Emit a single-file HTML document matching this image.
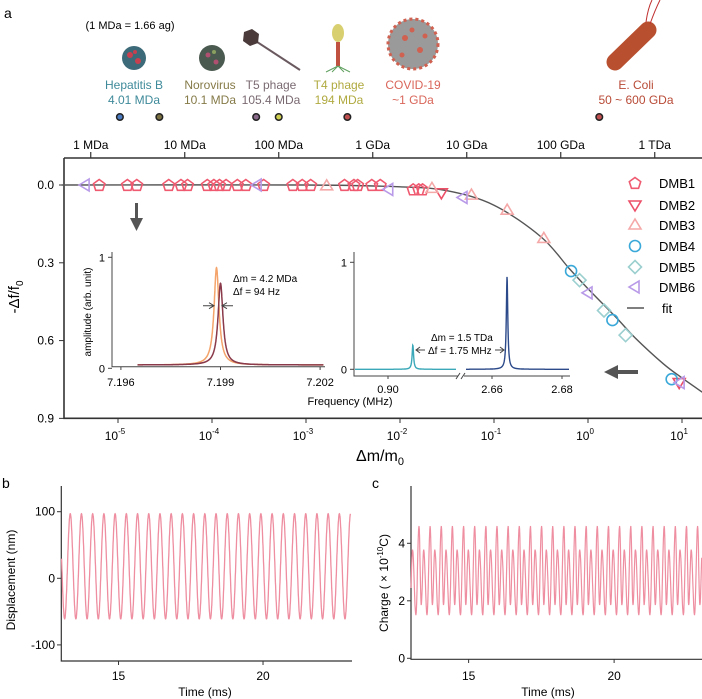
<!DOCTYPE html>
<html><head><meta charset="utf-8"><style>
body{margin:0;background:#fff}
svg{display:block;font-family:"Liberation Sans",sans-serif}
</style></head><body>
<svg id="fig" width="702" height="699" viewBox="0 0 702 699">
<text x="4" y="18" font-size="14">a</text>
<text x="130" y="29" font-size="11" text-anchor="middle">(1 MDa = 1.66 ag)</text>
<g><circle cx="134" cy="58" r="12" fill="#3c6a78"/><circle cx="130" cy="55" r="3" fill="#c84050"/><circle cx="138" cy="61" r="3" fill="#c84050"/><circle cx="135" cy="52" r="2" fill="#c84050"/></g>
<g><circle cx="212" cy="58" r="13" fill="#4a5a50"/><circle cx="208" cy="55" r="2.5" fill="#b05070"/><circle cx="216" cy="62" r="2.5" fill="#b05070"/><circle cx="214" cy="52" r="2" fill="#8aa060"/></g>
<g><line x1="251" y1="38" x2="300" y2="70" stroke="#6a5a60" stroke-width="2"/><polygon points="244,32 252,29 259,34 258,43 250,46 243,41" fill="#4a3a3a"/></g>
<g><ellipse cx="338" cy="33" rx="6" ry="9" fill="#d8d070"/><rect x="336" y="42" width="4" height="24" fill="#c05040"/><path d="M338 66 L326 72 M338 66 L350 72 M338 66 L332 72 M338 66 L344 72" stroke="#60a060" stroke-width="1"/></g>
<g><circle cx="413" cy="44" r="25" fill="#9a9a9a" stroke="#d06050" stroke-width="3" stroke-dasharray="3 3"/><circle cx="405" cy="38" r="3" fill="#d06050"/><circle cx="420" cy="50" r="3" fill="#d06050"/><circle cx="412" cy="30" r="2.5" fill="#d06050"/><circle cx="402" cy="55" r="2.5" fill="#d06050"/><circle cx="425" cy="36" r="2.5" fill="#d06050"/></g>
<g><line x1="615" y1="62" x2="648" y2="30" stroke="#b85030" stroke-width="17" stroke-linecap="round"/><path d="M650 24 Q655 10 660 0 M646 22 Q648 8 652 0" stroke="#c03030" fill="none" stroke-width="1"/></g>
<g font-size="12" text-anchor="middle">
<text x="134" y="89" fill="#3e8a9a">Hepatitis B</text>
<text x="134" y="104" fill="#3e8a9a">4.01 MDa</text>
<text x="210" y="89" fill="#857a48">Norovirus</text>
<text x="210" y="104" fill="#857a48">10.1 MDa</text>
<text x="271" y="89" fill="#7a6a72">T5 phage</text>
<text x="271" y="104" fill="#7a6a72">105.4 MDa</text>
<text x="339" y="89" fill="#b0aa40">T4 phage</text>
<text x="339" y="104" fill="#b0aa40">194 MDa</text>
<text x="413" y="89" fill="#d9665a">COVID-19</text>
<text x="413" y="104" fill="#d9665a">~1 GDa</text>
<text x="636" y="89" fill="#b84a36">E. Coli</text>
<text x="636" y="104" fill="#b84a36">50 ~ 600 GDa</text>
</g>
<g id="main"></g>
<g id="pb"></g>
<g id="pc"></g>
</svg>
<script>
// ---- main chart data ----
const topTickLabels = ["1 MDa","10 MDa","100 MDa","1 GDa","10 GDa","100 GDa","1 TDa"];
const topTickLogX = [-5.29,-4.29,-3.29,-2.29,-1.29,-0.29,0.71];
const dotLogX = [-4.98,-4.56,-3.53,-3.29,-2.56,0.12];
const dotColors = ["#4a7ac0","#7a7040","#8a6a8a","#d0d050","#c05050","#c05050"];
const xTickExp = [-5,-4,-3,-2,-1,0,1];
const yTicks = [0.0,0.3,0.6,0.9];
const dmb1LogX = [-5.20,-4.90,-4.80,-4.46,-4.33,-4.26,-4.05,-3.98,-3.92,-3.85,-3.73,-3.64,-3.45,-3.14,-3.04,-2.95,-2.59,-2.49,-2.45,-2.30,-2.21,-1.86,-1.80,-1.76];
const dmb1Y =    [0,0,0,0,0,0,0,0,0,0,0,0,0,0,0,0,0,0,0,0,0,0.017,0.017,0.017];
const dmb2LogX = [-1.56,0.97];
const dmb2Y = [0.03,0.762];
const dmb3LogX = [-2.78,-1.66,-1.24,-0.86,-0.47];
const dmb3Y = [0.003,0.013,0.039,0.097,0.206];
const dmb4LogX = [-0.18,0.26,0.89];
const dmb4Y = [0.332,0.521,0.749];
const dmb5LogX = [-0.09,0.17,0.40];
const dmb5Y = [0.367,0.484,0.579];
const dmb6LogX = [-5.35,-3.52,-2.12,-1.33,0.0,0.98];
const dmb6Y = [0,0,0.017,0.048,0.416,0.762];
const fitLogX = [-5.6,-3,-2,-1.5,-1,-0.5,-0.2,0,0.3,0.5,0.8,1.0,1.22];
const fitY =    [0,0,0.007,0.022,0.078,0.2,0.322,0.40,0.511,0.589,0.689,0.744,0.80];
// insets
const inset1Centers=[7.19888,7.19900]; const inset1Heights=[0.906,0.766]; const inset1Colors=["#f4a46a","#8a3a4a"];
const inset2Centers=[0.9071,2.6643]; const inset2Heights=[0.227,0.866]; const inset2Colors=["#3aa8b8","#2c4a8a"];
// panel b / c
const dispPeaks=[97,97,97,97,97,97,97,97,97,97,97,97,97,97,97,97,97,97,97,97,97,97,97,97,97,97];
const dispTroughs=[-61,-61,-61,-61,-61,-61,-61,-61,-61,-61,-61,-61,-61,-61,-61,-61,-61,-61,-61,-61,-61,-61,-61,-61,-61,-61,-61];
const chargeTall=4.6, chargeSmall=3.78, chargeDeep=1.5, chargeShallow=1.85;
const chargeCycles=27;

const NS="http://www.w3.org/2000/svg";
function mk(tag,attrs,parent,txt){const e=document.createElementNS(NS,tag);for(const k in attrs)e.setAttribute(k,attrs[k]);if(txt!==undefined)e.textContent=txt;parent.appendChild(e);return e;}
const main=document.getElementById('main');
const X=l=>588+94*l, Y=v=>185+259.3*v;
let fr=mk('path',{d:"M64 158 H702 M64 158 V418.3 H702",stroke:"#333",fill:"none","stroke-width":1.6},main);


topTickLabels.forEach((t,i)=>{const x=X(topTickLogX[i]);
 let l=mk('line',{x1:x,x2:x,y1:152,y2:158,stroke:"#333","stroke-width":1.2},main);
 
 
 let tx=mk('text',{x:x,y:149,"font-size":12,"text-anchor":"middle"},main,t);
 
 });
dotLogX.forEach((d,i)=>{let c=mk('circle',{cx:X(d),cy:117,r:3.3,fill:dotColors[i],stroke:"#222","stroke-width":1.5},main);
 
 });
xTickExp.forEach(e=>{const x=X(e);
 let l=mk('line',{x1:x,x2:x,y1:418,y2:423,stroke:"#333"},main);
 
 
 let t=mk('text',{x:x-3,y:440,"font-size":12,"text-anchor":"middle"},main,"10");
 
 
 mk('tspan',{dy:-6,"font-size":8},t,String(e));});
yTicks.forEach(v=>{const y=Y(v);
 let l=mk('line',{x1:59,x2:64,y1:y,y2:y,stroke:"#333"},main);
 
 
 let t=mk('text',{x:54,y:y+4,"font-size":12,"text-anchor":"end"},main,v.toFixed(1));
 
 });
let xt=mk('text',{x:380,y:461,"font-size":16,"text-anchor":"middle"},main,"Δm/m");


mk('tspan',{dy:4,"font-size":11},xt,"0");
let yt=mk('text',{x:0,y:0,"font-size":15,"text-anchor":"middle",transform:"translate(19,297) rotate(-90)"},main,"-Δf/f");


mk('tspan',{dy:4,"font-size":10},yt,"0");
function crPath(pts){let d=`M${pts[0][0]} ${pts[0][1]}`;for(let i=0;i<pts.length-1;i++){const p0=pts[i-1]||pts[i],p1=pts[i],p2=pts[i+1],p3=pts[i+2]||p2;d+=` C${p1[0]+(p2[0]-p0[0])/6} ${p1[1]+(p2[1]-p0[1])/6} ${p2[0]-(p3[0]-p1[0])/6} ${p2[1]-(p3[1]-p1[1])/6} ${p2[0]} ${p2[1]}`;}return d;}
let fit=mk('path',{d:crPath(fitLogX.map((l,i)=>[X(l),Y(fitY[i])])),stroke:"#555",fill:"none","stroke-width":1.4},main);


function marker(type,cx,cy,col,parent){const r=6;let pts;
 if(type==='circle')return mk('circle',{cx,cy,r:5.5,fill:"none",stroke:col,"stroke-width":1.6},parent);
 if(type==='pent')pts=[0,1,2,3,4].map(k=>{const a=-Math.PI/2+k*2*Math.PI/5;return[cx+r*Math.cos(a),cy+r*Math.sin(a)+0.5];});
 if(type==='down')pts=[[cx-6,cy-4],[cx+6,cy-4],[cx,cy+6]];
 if(type==='up')pts=[[cx-6,cy+4],[cx+6,cy+4],[cx,cy-6]];
 if(type==='diam')pts=[[cx,cy-6.5],[cx+6.5,cy],[cx,cy+6.5],[cx-6.5,cy]];
 if(type==='left')pts=[[cx-6,cy],[cx+4,cy-6],[cx+4,cy+6]];
 return mk('polygon',{points:pts.map(p=>p.join(',')).join(' '),fill:"none",stroke:col,"stroke-width":1.6},parent);}
const series=[["DMB1","pent","#ef5a70",dmb1LogX,dmb1Y],["DMB2","down","#ec5068",dmb2LogX,dmb2Y],["DMB3","up","#f5a8a8",dmb3LogX,dmb3Y],["DMB4","circle","#3aa8d8",dmb4LogX,dmb4Y],["DMB5","diam","#9ccfcf",dmb5LogX,dmb5Y],["DMB6","left","#b89ae8",dmb6LogX,dmb6Y]];
const legY=[183,205,225,246,267,287];
series.forEach((s,si)=>{s[3].forEach((l,i)=>{let m=marker(s[1],X(l),Y(s[4][i]),s[2],main);
  
  });
 let lm=marker(s[1],635,legY[si],s[2],main);
 
 
 let lt=mk('text',{x:659,y:legY[si]+5,"font-size":13},main,s[0]);
 
 });
let fl=mk('line',{x1:627,x2:644,y1:308,y2:308,stroke:"#555","stroke-width":1.5},main);


let ft=mk('text',{x:662,y:313,"font-size":13},main,"fit");


let da=mk('path',{d:"M135 203 V218 H130 L136.5 231 L143 218 H138 V203 Z",fill:"#555"},main);


let la=mk('path',{d:"M638 370 H618 V365 L604 372 L618 379 V374 H638 Z",fill:"#555"},main);


// inset 1
const i1=mk('g',{},main);


const I1X=f=>220.5+(f-7.199)*33200, I1Y=v=>368.3-111*v;
mk('path',{d:"M112 252 V366.7 H325",stroke:"#444",fill:"none"},i1);
[7.196,7.199,7.202].forEach(t=>{mk('line',{x1:I1X(t),x2:I1X(t),y1:366.7,y2:370,stroke:"#444"},i1);mk('text',{x:I1X(t),y:386,"font-size":11,"text-anchor":"middle"},i1,t.toFixed(3));});
[[1,"1"],[0,"0"]].forEach(([v,s])=>{mk('line',{x1:108,x2:112,y1:I1Y(v),y2:I1Y(v),stroke:"#444"},i1);mk('text',{x:105,y:I1Y(v)+4,"font-size":11,"text-anchor":"end"},i1,s);});
mk('text',{x:0,y:0,"font-size":10,"text-anchor":"middle",transform:"translate(91,312) rotate(-90)"},i1,"amplitude (arb. unit)");
inset1Centers.forEach((c,k)=>{let pts=[];for(let f=7.1965;f<=7.2021;f+=0.000005){const d=(f-c)/0.00009;pts.push([I1X(f),I1Y(0.03+(inset1Heights[k]-0.03)/(1+d*d))]);}
 let p=mk('path',{d:"M"+pts.map(p=>p[0].toFixed(1)+" "+p[1].toFixed(1)).join(" L"),stroke:inset1Colors[k],fill:"none","stroke-width":1.5},i1);
 
 });
mk('text',{x:233,y:282,"font-size":10},i1,"Δm = 4.2 MDa");
mk('text',{x:233,y:295,"font-size":10},i1,"Δf  = 94 Hz");
mk('path',{d:"M203 305.7 H213 M209 302.7 L214 305.7 L209 308.7 M233 305.7 H223 M227 302.7 L222 305.7 L227 308.7",stroke:"#444",fill:"none"},i1);
// inset 2
const i2=mk('g',{},main);


const I2XL=f=>388+(f-0.90)*3500, I2XR=f=>492+(f-2.66)*3500, I2Y=v=>369.3-107*v;
mk('path',{d:"M354 252 V376 H458 M464 376 H570",stroke:"#444",fill:"none"},i2);
mk('path',{d:"M456 379 L460 373 M461 379 L465 373",stroke:"#444"},i2);
[[I2XL(0.90),"0.90"],[I2XR(2.66),"2.66"],[I2XR(2.68),"2.68"]].forEach(([x,s])=>{mk('line',{x1:x,x2:x,y1:376,y2:379,stroke:"#444"},i2);mk('text',{x:x,y:393,"font-size":11,"text-anchor":"middle"},i2,s);});
[[1,"1"],[0,"0"]].forEach(([v,s])=>{mk('line',{x1:350,x2:354,y1:I2Y(v),y2:I2Y(v),stroke:"#444"},i2);mk('text',{x:347,y:I2Y(v)+4,"font-size":11,"text-anchor":"end"},i2,s);});
mk('text',{x:350,y:405,"font-size":11,"text-anchor":"middle"},i2,"Frequency (MHz)");
[[inset2Centers[0],I2XL,355,456],[inset2Centers[1],I2XR,466,569]].forEach(([c,fx,a,b],k)=>{let pts=[];for(let x=a;x<=b;x+=0.25){const f=c+(x-fx(c))/3500;const d=(f-c)/0.00025;pts.push([x,I2Y(inset2Heights[k]/(1+d*d))]);}
 let p=mk('path',{d:"M"+pts.map(p=>p[0].toFixed(2)+" "+p[1].toFixed(1)).join(" L"),stroke:inset2Colors[k],fill:"none","stroke-width":1.4},i2);
 
 });
mk('text',{x:431,y:341,"font-size":10},i2,"Δm = 1.5 TDa");
mk('text',{x:428,y:354,"font-size":10},i2,"Δf  = 1.75 MHz");
mk('path',{d:"M416 350 H425 M420 347 L416 350 L420 353 M495 350 H504 M500 347 L504 350 L500 353",stroke:"#444",fill:"none"},i2);

// ---- panel b ----
const pb=document.getElementById('pb');
const BX=t=>61.3+(t-13.02)*28.9, BY=v=>578.3-0.666*v;
mk('text',{x:2,y:488,"font-size":14},pb,"b");
mk('path',{d:"M61.3 486 V661 H352",stroke:"#333",fill:"none","stroke-width":1.2},pb);
[100,0,-100].forEach(v=>{mk('line',{x1:57,x2:61.3,y1:BY(v),y2:BY(v),stroke:"#333"},pb);mk('text',{x:55,y:BY(v)+4,"font-size":12,"text-anchor":"end"},pb,String(v));});
[15,20].forEach(t=>{mk('line',{x1:BX(t),x2:BX(t),y1:661,y2:665,stroke:"#333"},pb);mk('text',{x:BX(t),y:680,"font-size":12,"text-anchor":"middle"},pb,String(t));});
mk('text',{x:205,y:696,"font-size":12,"text-anchor":"middle"},pb,"Time (ms)");
mk('text',{x:0,y:0,"font-size":12,"text-anchor":"middle",transform:"translate(15,580) rotate(-90)"},pb,"Displacement (nm)");
{const T=0.388,t0=13.33;let pts=[];
 for(let t=13.03;t<=23.03;t+=0.004){const ph=(t-t0)/T;const k=Math.floor(ph);const fr=ph-k;const pk=dispPeaks[Math.max(0,Math.min(dispPeaks.length-1,k<0?0:k))];const tr=dispTroughs[Math.max(0,Math.min(dispTroughs.length-1,k+1))];const mid=(pk+tr)/2,amp=(pk-tr)/2;pts.push([BX(t),BY(mid+amp*Math.cos(2*Math.PI*fr))]);}
 let p=mk('path',{d:"M"+pts.map(p=>p[0].toFixed(1)+" "+p[1].toFixed(1)).join(" L"),stroke:"#ee8ea0",fill:"none","stroke-width":1.3},pb);
 
 }
// ---- panel c ----
const pc=document.getElementById('pc');
const CX=t=>411+(t-13.02)*29.1, CY=v=>658.3-28.75*v;
mk('text',{x:372,y:488,"font-size":14},pc,"c");
mk('path',{d:"M411 486 V659.3 H702",stroke:"#333",fill:"none","stroke-width":1.2},pc);
[4,2,0].forEach(v=>{mk('line',{x1:407,x2:411,y1:CY(v),y2:CY(v),stroke:"#333"},pc);mk('text',{x:405,y:CY(v)+4,"font-size":12,"text-anchor":"end"},pc,String(v));});
[15,20].forEach(t=>{mk('line',{x1:CX(t),x2:CX(t),y1:659,y2:663,stroke:"#333"},pc);mk('text',{x:CX(t),y:680,"font-size":12,"text-anchor":"middle"},pc,String(t));});
mk('text',{x:548,y:696,"font-size":12,"text-anchor":"middle"},pc,"Time (ms)");
let ctl=mk('text',{x:0,y:0,"font-size":12,"text-anchor":"middle",transform:"translate(388,583) rotate(-90)"},pc,"Charge ( × 10");
mk('tspan',{dy:-5,"font-size":8},ctl,"-10");
mk('tspan',{dy:5},ctl,"C)");
{const T=0.383,t0=13.295-T;const keys=[[0,chargeTall],[0.2,chargeShallow],[0.42,chargeSmall],[0.72,chargeDeep],[1,chargeTall]];let pts=[];
 for(let c=0;c<chargeCycles;c++){for(let j=0;j<keys.length-1;j++){const [a,va]=keys[j],[b,vb]=keys[j+1];for(let s=0;s<=8;s++){const u=s/8;const v=va+(vb-va)*(1-Math.cos(Math.PI*u))/2;const t=t0+(c+a+(b-a)*u)*T;if(t>=13.02&&t<=23.02)pts.push([CX(t),CY(v)]);}}}
 let p=mk('path',{d:"M"+pts.map(p=>p[0].toFixed(1)+" "+p[1].toFixed(1)).join(" L"),stroke:"#ee8ea0",fill:"none","stroke-width":1.2},pc);
 
 }
</script>
</body></html>
